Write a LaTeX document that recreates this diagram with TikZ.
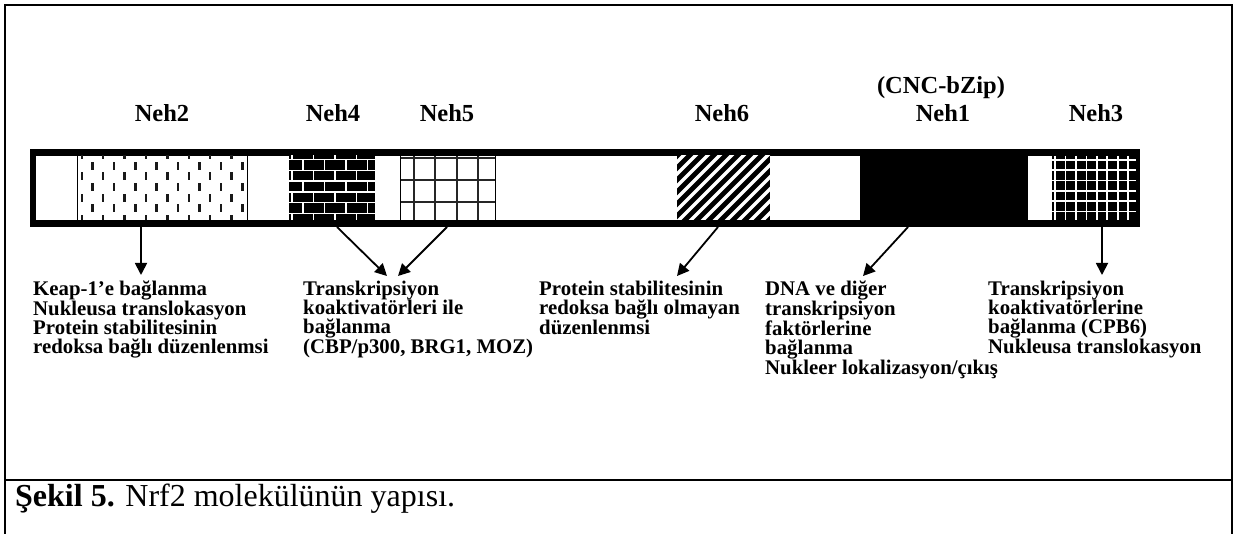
\documentclass[tikz,border=0pt]{standalone}
\usepackage{fontspec}
\setmainfont{Liberation Serif}
\usetikzlibrary{arrows.meta}
\begin{document}
\begin{tikzpicture}[x=1pt,y=-1pt,
  lbl/.style={font=\fontsize{24.5}{27}\selectfont\bfseries, anchor=base, inner sep=0pt},
  desc/.style={font=\fontsize{20.8}{19}\selectfont\bfseries, align=left, anchor=north west, inner sep=0pt},
  arr/.style={line width=1.8pt, -{Triangle[length=12pt,width=12pt]}},
  frame/.style={line width=2pt},
  segline/.style={line width=1pt}
]
\useasboundingbox (0,0) rectangle (1235,534);
% frame
\draw[frame] (5,536) -- (5,5) -- (1232,5) -- (1232,536);
\draw[frame] (5,480) -- (1232,480);

% bar
\fill[black] (30,149) rectangle (1140,227);
\fill[white] (36,156) rectangle (1136,220);

% Neh2: staggered dashes
\begin{scope}
\clip (77,156) rectangle (247,220);
\foreach \i in {0,...,16}{
  \pgfmathsetmacro{\xx}{80.5+10.7*\i}
  \pgfmathsetmacro{\yo}{mod(\i,2)*10.7}
  \foreach \j in {0,...,3}{
    \fill[black!90] (\xx,{151+\yo+21.4*\j}) rectangle ++(2.5,8);
  }
}
\end{scope}
\draw[segline] (77,156) -- (77,220) (247,156) -- (247,220);

% Neh4: bricks
\begin{scope}
\clip (289,156) rectangle (375,220);
\fill[black] (289,156) rectangle (375,220);
\foreach \k in {0,...,6}{
  \pgfmathsetmacro{\ya}{148.7+10.8*\k}
  \pgfmathsetmacro{\yb}{159.5+10.8*\k}
  \draw[white, line width=1.5pt] (289,\yb) -- (375,\yb);
  \pgfmathsetmacro{\xo}{mod(\k,2)*10.75}
  \foreach \m in {0,...,4}{
    \draw[white, line width=1.5pt] ({292+\xo+21.5*\m},\ya) -- ({292+\xo+21.5*\m},\yb);
  }
}
\end{scope}

% Neh5: grid
\begin{scope}
\clip (400,156) rectangle (495,220);
\foreach \x in {413.5,435,456.5,478}{
  \draw[black!85, line width=2pt] (\x,156) -- (\x,220);
}
\foreach \y in {158,180,202}{
  \draw[black!85, line width=2pt] (400,\y) -- (495,\y);
}
\end{scope}
\draw[segline] (400,156) -- (400,220) (495,156) -- (495,220);

% Neh6: diagonal stripes
\begin{scope}
\clip (677,156) rectangle (770,220);
\fill[black] (677,156) rectangle (770,220);
\foreach \k in {-7,...,9}{
  \draw[white, line width=3.5pt] ({677+12*\k},222) -- ++(70,-70);
}
\end{scope}

% Neh1: solid
\fill[black] (860,156) rectangle (1028,220);

% Neh3: black with white grid
\begin{scope}
\clip (1052,156) rectangle (1136,220);
\fill[black] (1052,156) rectangle (1136,220);
\foreach \m in {0,...,7}{
  \draw[white, line width=1.6pt] ({1055+10.45*\m},156) -- ({1055+10.45*\m},220);
}
\foreach \k in {0,...,5}{
  \draw[white, line width=1.6pt] (1052,{160+10.3*\k}) -- (1136,{160+10.3*\k});
}
\end{scope}

% labels
\node[lbl] (l2) at (162,122) {Neh2};
\node[lbl] (l4) at (333,122) {Neh4};
\node[lbl] (l5) at (447,122) {Neh5};
\node[lbl] (l6) at (722,122) {Neh6};
\node[lbl] (lc) at (941,94) {(CNC-bZip)};
\node[lbl] (l1) at (943,122) {Neh1};
\node[lbl] (l3) at (1096,122) {Neh3};

% descriptions
\node[desc] (d1) at (33,279) {\rule{0pt}{16pt}Keap-1’e bağlanma\\Nukleusa translokasyon\\Protein stabilitesinin\\redoksa bağlı düzenlenmsi};
\node[desc] (d2) at (303,279) {\rule{0pt}{16pt}Transkripsiyon\\koaktivatörleri ile\\bağlanma\\(CBP/p300, BRG1, MOZ)};
\node[desc] (d3) at (539,279) {\rule{0pt}{16pt}Protein stabilitesinin\\redoksa bağlı olmayan\\düzenlenmsi};
\node[desc] (d4) at (765,279) {\rule{0pt}{16pt}DNA ve diğer\\transkripsiyon\\faktörlerine\\bağlanma\\Nukleer lokalizasyon/çıkış};
\node[desc] (d5) at (988,279) {\rule{0pt}{16pt}Transkripsiyon\\koaktivatörlerine\\bağlanma (CPB6)\\Nukleusa translokasyon};

% arrow anchor points
\coordinate (s2) at (141,227);  \coordinate (t2) at (141,275);
\coordinate (s4) at (337,227);  \coordinate (t4) at (387,276);
\coordinate (s5) at (447,227);  \coordinate (t5) at (398,276);
\coordinate (s6) at (718,227);  \coordinate (t6) at (677,276);
\coordinate (s1) at (908,227);  \coordinate (t1) at (863,276);
\coordinate (s3) at (1102,227); \coordinate (t3) at (1102,275);
\draw[arr] (s2) -- (t2);
\draw[arr] (s4) -- (t4);
\draw[arr] (s5) -- (t5);
\draw[arr] (s6) -- (t6);
\draw[arr] (s1) -- (t1);
\draw[arr] (s3) -- (t3);

% caption
\node[anchor=base west, inner sep=0pt, font=\fontsize{32}{36}\selectfont] (cap) at (15,507) {\textbf{Şekil 5.} Nrf2 molekülünün yapısı.};
\end{tikzpicture}
\end{document}
